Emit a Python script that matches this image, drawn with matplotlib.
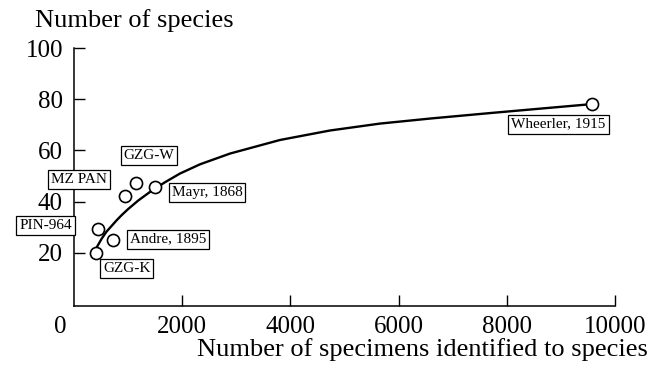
import matplotlib
matplotlib.use("Agg")
import matplotlib.pyplot as plt
from matplotlib.transforms import ScaledTranslation

plt.rcParams['font.family'] = ['Liberation Serif', 'DejaVu Serif']

# Collections: specimens identified vs number of species
names = ["GZG-K", "PIN-964", "Andre, 1895", "MZ PAN", "GZG-W", "Mayr, 1868", "Wheerler, 1915"]
specimens = [410, 450, 730, 940, 1150, 1500, 9570]
species = [19.9, 29.4, 25.1, 42.4, 47.2, 45.9, 78.1]

# label box centres (data coordinates)
label_x = [974, -527, 1741, 92, 1386, 2458, 8959]
label_y = [13.8, 30.6, 25.4, 48.8, 58.0, 43.7, 70.3]

# fitted curve
curve_x = [338, 420, 512, 600, 697, 790, 882, 1004, 1189, 1436, 1682, 1959, 2329, 2884,
           3808, 4732, 5656, 6600, 7689, 8600, 9570]
curve_y = [18.6, 22.2, 25.6, 28.3, 30.6, 32.8, 34.8, 37.2, 40.5, 44.3, 47.6, 51.0, 54.6, 58.8,
           64.1, 67.8, 70.5, 72.5, 74.6, 76.3, 78.1]

xticks = [0, 2000, 4000, 6000, 8000, 10000]
yticks = [20, 40, 60, 80, 100]

fig = plt.figure(figsize=(6.59, 3.67), dpi=100)
ax = fig.add_axes([74/659, 1-306/367, (615-74)/659, (306-48)/367])

ax.plot(curve_x, curve_y, color='black', lw=1.7, zorder=2, solid_joinstyle='round')
ax.plot(specimens, species, 'o', ms=8.7, mfc='white', mec='black', mew=1.2, zorder=3)

for n, lx, ly in zip(names, label_x, label_y):
    ax.text(lx, ly, n, fontsize=11, ha='center', va='center', zorder=4,
            bbox=dict(boxstyle='square,pad=0.2', fc='white', ec='black', lw=0.9))

ax.set_xlim(0, 10000)
ax.set_ylim(-0.7, 100)
ax.set_xticks(xticks)
ax.set_yticks(yticks)
ax.set_xticklabels([str(t) for t in xticks])
ax.set_yticklabels([str(t) for t in yticks])
ax.tick_params(axis='both', direction='in', length=8, width=1.0, labelsize=18, pad=7)
ax.tick_params(axis='y', pad=8)

for s in ['top', 'right']:
    ax.spines[s].set_visible(False)
for s in ['left', 'bottom']:
    ax.spines[s].set_linewidth(1.1)

# shift the "0" label left into the corner
lbl0 = ax.get_xticklabels()[0]
lbl0.set_transform(lbl0.get_transform() + ScaledTranslation(-0.14, 0, fig.dpi_scale_trans))
ax.xaxis.get_major_ticks()[0].tick1line.set_visible(False)

fig.text(35/659, 1-21/367, "Number of species", fontsize=19, ha='left', va='center')
fig.text(648/659, 1-350/367, "Number of specimens identified to species", fontsize=19,
         ha='right', va='center')

fig.savefig("out.png", dpi=100)
